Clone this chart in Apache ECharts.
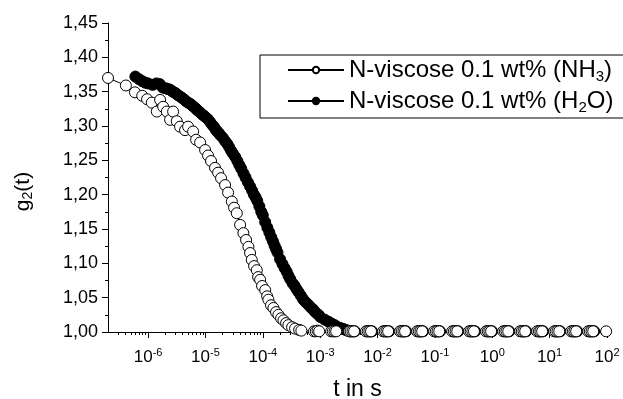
<!DOCTYPE html>
<html>
<head>
<meta charset="utf-8">
<script src="https://cdn.jsdelivr.net/npm/echarts@6/dist/echarts.min.js"></script>
<style>
  html, body { margin: 0; padding: 0; background: #fff; }
  #chart { width: 623px; height: 399px; }
</style>
</head>
<body>
<div id="chart"></div>
<script>
// time axis range (s)
const xMin = 2e-7
const xMax = 100
const xMajorTicks = [1e-6, 1e-5, 1e-4, 1e-3, 1e-2, 1e-1, 1, 10, 100]

// N-viscose 0.1 wt% (NH3): [t, g2]
const nh3Decay = [
  [2.0e-7, 1.370], [4.1e-7, 1.359], [5.9e-7, 1.349], [7.9e-7, 1.344], [9.6e-7, 1.339],
  [1.16e-6, 1.334], [1.42e-6, 1.321], [1.62e-6, 1.338], [1.83e-6, 1.328], [2.12e-6, 1.321],
  [2.42e-6, 1.309], [2.73e-6, 1.321], [3.16e-6, 1.307], [3.61e-6, 1.299], [4.41e-6, 1.294],
  [4.98e-6, 1.299], [6.09e-6, 1.292], [6.87e-6, 1.280], [8.07e-6, 1.276], [9.86e-6, 1.265],
  [1.11e-5, 1.257], [1.25e-5, 1.249], [1.47e-5, 1.239], [1.66e-5, 1.232], [1.87e-5, 1.224],
  [2.20e-5, 1.214], [2.48e-5, 1.203], [2.88e-5, 1.190], [3.16e-5, 1.181], [3.52e-5, 1.173],
  [4.02e-5, 1.156], [4.58e-5, 1.144], [5.11e-5, 1.134], [5.61e-5, 1.124], [6.00e-5, 1.115],
  [6.42e-5, 1.105], [7.05e-5, 1.096], [7.85e-5, 1.090], [8.28e-5, 1.080], [8.97e-5, 1.076],
  [9.71e-5, 1.067], [1.10e-4, 1.061], [1.19e-4, 1.052], [1.25e-4, 1.047], [1.39e-4, 1.039],
  [1.53e-4, 1.035], [1.70e-4, 1.029], [1.87e-4, 1.025], [2.08e-4, 1.020], [2.29e-4, 1.017],
  [2.55e-4, 1.013], [2.79e-4, 1.010], [3.24e-4, 1.007], [3.65e-4, 1.005], [4.30e-4, 1.003],
  [4.70e-4, 1.002]
]
const nh3Flat = [
  [7.8e-4, 1.001], [8.4e-4, 1.001], [9.0e-4, 1.002], [9.6e-4, 1.001],
  [1.55e-3, 1.001], [1.66e-3, 1.001], [1.78e-3, 1.001], [1.90e-3, 1.001],
  [3.2e-3, 1.001], [3.4e-3, 1.001], [3.65e-3, 1.001], [3.9e-3, 1.001],
  [6.3e-3, 1.001], [6.75e-3, 1.001], [7.2e-3, 1.001], [7.7e-3, 1.001],
  [1.25e-2, 1.001], [1.34e-2, 1.001], [1.43e-2, 1.001], [1.53e-2, 1.001],
  [2.47e-2, 1.001], [2.64e-2, 1.001], [2.83e-2, 1.001], [3.02e-2, 1.001],
  [4.9e-2, 1.001], [5.25e-2, 1.001], [5.6e-2, 1.001], [6.0e-2, 1.001],
  [9.7e-2, 1.001], [0.104, 1.001], [0.111, 1.001], [0.119, 1.001],
  [0.20, 1.001], [0.214, 1.001], [0.229, 1.001], [0.245, 1.001],
  [0.394, 1.001], [0.42, 1.001], [0.45, 1.001], [0.48, 1.001],
  [0.78, 1.001], [0.835, 1.001], [0.89, 1.001], [0.955, 1.001],
  [1.55, 1.001], [1.66, 1.001], [1.77, 1.001], [1.9, 1.001],
  [3.06, 1.001], [3.27, 1.001], [3.5, 1.001], [3.75, 1.001],
  [6.05, 1.001], [6.5, 1.001], [6.9, 1.001], [7.4, 1.001],
  [12.0, 1.001], [12.8, 1.001], [13.7, 1.001], [14.7, 1.001],
  [23.7, 1.001], [25.4, 1.001], [27.1, 1.001], [29.0, 1.001],
  [46.9, 1.001], [50.2, 1.001], [53.7, 1.001], [57.5, 1.001],
  [96.6, 1.001]
]

// N-viscose 0.1 wt% (H2O): [t, g2]
const h2oEarly = [
  [6.0e-7, 1.372], [7.0e-7, 1.368], [8.0e-7, 1.365], [9.0e-7, 1.363], [1.0e-6, 1.362],
  [1.2e-6, 1.360], [1.4e-6, 1.362], [1.6e-6, 1.361], [1.8e-6, 1.356], [2.0e-6, 1.355],
  [2.2e-6, 1.354], [2.4e-6, 1.353], [2.6e-6, 1.351], [2.8e-6, 1.349], [3.0e-6, 1.348],
  [3.3e-6, 1.345], [3.6e-6, 1.343], [3.9e-6, 1.341], [4.2e-6, 1.339], [4.6e-6, 1.336],
  [5.0e-6, 1.334], [5.5e-6, 1.332], [6.0e-6, 1.329], [6.5e-6, 1.327], [7.0e-6, 1.324],
  [7.5e-6, 1.322], [8.0e-6, 1.320], [8.7e-6, 1.317], [9.4e-6, 1.315]
]
const h2oDecay = [
  [1.0e-5, 1.313], [1.1e-5, 1.310], [1.2e-5, 1.306], [1.3e-5, 1.302], [1.4e-5, 1.299],
  [1.5e-5, 1.295], [1.6e-5, 1.292], [1.7e-5, 1.290], [1.8e-5, 1.287], [2.0e-5, 1.283],
  [2.2e-5, 1.278], [2.4e-5, 1.274], [2.6e-5, 1.269], [2.8e-5, 1.264], [3.0e-5, 1.260],
  [3.3e-5, 1.255], [3.6e-5, 1.249], [3.9e-5, 1.243], [4.2e-5, 1.238], [4.6e-5, 1.231],
  [5.0e-5, 1.225], [5.5e-5, 1.218], [6.0e-5, 1.212], [6.5e-5, 1.206], [7.0e-5, 1.200],
  [7.5e-5, 1.196], [8.0e-5, 1.191], [8.7e-5, 1.183], [9.4e-5, 1.175],
  [1.0e-4, 1.170], [1.1e-4, 1.160], [1.2e-4, 1.152], [1.3e-4, 1.145], [1.4e-4, 1.138],
  [1.5e-4, 1.132], [1.6e-4, 1.126], [1.7e-4, 1.121], [1.8e-4, 1.116], [2.0e-4, 1.106],
  [2.2e-4, 1.099], [2.4e-4, 1.093], [2.6e-4, 1.088], [2.8e-4, 1.082], [3.0e-4, 1.077],
  [3.3e-4, 1.071], [3.6e-4, 1.067], [3.9e-4, 1.062], [4.2e-4, 1.058], [4.6e-4, 1.053],
  [5.0e-4, 1.048], [5.5e-4, 1.044], [6.0e-4, 1.041], [6.5e-4, 1.038], [7.0e-4, 1.035],
  [7.5e-4, 1.033], [8.0e-4, 1.030], [8.7e-4, 1.027], [9.4e-4, 1.025],
  [1.0e-3, 1.022], [1.2e-3, 1.018], [1.4e-3, 1.015], [1.6e-3, 1.012], [1.8e-3, 1.010],
  [2.0e-3, 1.007], [2.2e-3, 1.006], [2.4e-3, 1.005], [2.6e-3, 1.004], [2.8e-3, 1.003],
  [3.0e-3, 1.002]
]
const h2oFlat = [
  [3.3e-3, 1.001], [3.5e-3, 1.001], [3.75e-3, 1.001], [4.0e-3, 1.001],
  [6.5e-3, 1.001], [7.0e-3, 1.001], [7.5e-3, 1.001], [8.0e-3, 1.001],
  [1.3e-2, 1.001], [1.39e-2, 1.001], [1.49e-2, 1.001], [1.59e-2, 1.001],
  [2.57e-2, 1.001], [2.75e-2, 1.001], [2.94e-2, 1.001], [3.14e-2, 1.001],
  [5.1e-2, 1.001], [5.45e-2, 1.001], [5.8e-2, 1.001], [6.2e-2, 1.001],
  [0.101, 1.001], [0.108, 1.001], [0.115, 1.001], [0.123, 1.001],
  [0.208, 1.001], [0.222, 1.001], [0.238, 1.001], [0.255, 1.001],
  [0.41, 1.001], [0.437, 1.001], [0.468, 1.001], [0.5, 1.001],
  [0.81, 1.001], [0.87, 1.001], [0.93, 1.001], [0.99, 1.001],
  [1.61, 1.001], [1.73, 1.001], [1.84, 1.001], [1.98, 1.001],
  [3.18, 1.001], [3.4, 1.001], [3.64, 1.001], [3.9, 1.001],
  [6.3, 1.001], [6.75, 1.001], [7.2, 1.001], [7.7, 1.001],
  [12.5, 1.001], [13.3, 1.001], [14.2, 1.001], [15.3, 1.001],
  [24.6, 1.001], [26.4, 1.001], [28.2, 1.001], [30.2, 1.001],
  [48.8, 1.001], [52.2, 1.001], [55.8, 1.001], [59.8, 1.001]
]

const nh3Name = 'N-viscose 0.1 wt% (NH3)'
const h2oName = 'N-viscose 0.1 wt% (H2O)'
const legendText = {
  [nh3Name]: '{t|N-viscose 0.1 wt% (NH}{sub|3}{t|)}',
  [h2oName]: '{t|N-viscose 0.1 wt% (H}{sub|2}{t|O)}'
}

// tick decoration axes work in log10 space
const logMin = Math.log10(xMin)
const logMax = Math.log10(xMax)
const majorExp = xMajorTicks.map(v => Math.log10(v))
const minorExp = []
for (let e = -7; e <= 1; e++) {
  for (let m = 2; m <= 9; m++) {
    const v = Math.log10(m) + e
    if (v > logMin && v < logMax) minorExp.push(v)
  }
}

const font = 'Liberation Sans, Arial, sans-serif'
const black = '#000'
const axisLine = { show: true, onZero: false, lineStyle: { color: black, width: 1 } }

function tickAxis(values, length) {
  return {
    type: 'value',
    min: logMin,
    max: logMax,
    position: 'bottom',
    axisLine: { show: false, onZero: false },
    axisLabel: { show: false },
    splitLine: { show: false },
    axisTick: { show: true, length, customValues: values, lineStyle: { color: black, width: 1 } }
  }
}

const chart = echarts.init(document.getElementById('chart'))

chart.setOption({
  animation: false,
  backgroundColor: '#fff',
  grid: { left: 108, right: 16, top: 23, bottom: 67, containLabel: false, outerBoundsMode: 'none' },
  legend: {
    data: [nh3Name, h2oName],
    orient: 'vertical',
    left: 260,
    top: 55,
    padding: [3, 11, 3, 27],
    itemGap: 5,
    itemWidth: 56,
    itemHeight: 8,
    borderColor: black,
    borderWidth: 1,
    borderRadius: 0,
    formatter: name => legendText[name],
    textStyle: {
      color: black,
      fontFamily: font,
      rich: {
        t: { fontSize: 24, lineHeight: 28, fontFamily: font, color: black },
        sub: { fontSize: 15, verticalAlign: 'bottom', fontFamily: font, color: black }
      }
    }
  },
  xAxis: [
    {
      type: 'log',
      min: xMin,
      max: xMax,
      position: 'bottom',
      name: 't in s',
      nameLocation: 'middle',
      nameGap: 46,
      nameTextStyle: { fontSize: 23, fontFamily: font, color: black },
      axisLine,
      axisTick: { show: false },
      splitLine: { show: false },
      axisLabel: {
        margin: 15,
        formatter: v => {
          const e = Math.log10(v)
          if (Math.abs(e - Math.round(e)) > 0.01) return ''
          return '{b|10}{s|' + Math.round(e) + '}'
        },
        rich: {
          b: { fontSize: 17, lineHeight: 20, fontFamily: font, color: black },
          s: { fontSize: 11, verticalAlign: 'top', fontFamily: font, color: black }
        }
      }
    },
    tickAxis(majorExp, 6),
    tickAxis(minorExp, 3)
  ],
  yAxis: {
    type: 'value',
    min: 1.0,
    max: 1.45,
    interval: 0.05,
    name: '{a|g}{s|2}{a|(t)}',
    nameLocation: 'middle',
    nameRotate: 90,
    nameGap: 73,
    nameTextStyle: {
      padding: [0, 28, 0, 0],
      rich: {
        a: { fontSize: 21, lineHeight: 24, fontFamily: font, color: black },
        s: { fontSize: 14, verticalAlign: 'bottom', fontFamily: font, color: black }
      }
    },
    axisLine,
    axisTick: { show: true, length: 6, lineStyle: { color: black, width: 1 } },
    minorTick: { show: true, splitNumber: 2, length: 3, lineStyle: { color: black, width: 1 } },
    splitLine: { show: false },
    minorSplitLine: { show: false },
    axisLabel: {
      margin: 10,
      fontSize: 18,
      fontFamily: font,
      color: black,
      formatter: v => v.toFixed(2).replace('.', ',')
    }
  },
  series: [
    {
      name: h2oName,
      type: 'line',
      data: h2oEarly.concat(h2oDecay, h2oFlat),
      symbol: 'circle',
      symbolSize: 11,
      clip: false,
      lineStyle: { color: black, width: 1 },
      itemStyle: { color: black, borderColor: black, borderWidth: 1 }
    },
    {
      name: nh3Name,
      type: 'line',
      data: nh3Decay.concat(nh3Flat),
      symbol: 'circle',
      symbolSize: 11,
      clip: false,
      lineStyle: { color: black, width: 1 },
      itemStyle: { color: '#fff', borderColor: black, borderWidth: 1 }
    }
  ]
})
</script>
</body>
</html>
